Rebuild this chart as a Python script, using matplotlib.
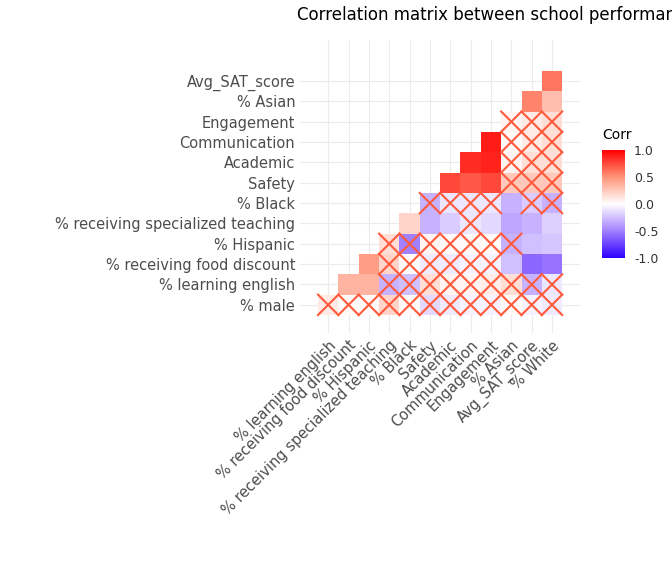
import numpy as np
import matplotlib
matplotlib.use("Agg")
import matplotlib.pyplot as plt
from matplotlib.colors import LinearSegmentedColormap, Normalize

x_labels = ["% learning english", "% receiving food discount", "% Hispanic",
            "% receiving specialized teaching", "% Black", "Safety", "Academic",
            "Communication", "Engagement", "% Asian", "Avg_SAT_score", "% White"]
y_labels = ["% male", "% learning english", "% receiving food discount", "% Hispanic",
            "% receiving specialized teaching", "% Black", "Safety", "Academic",
            "Communication", "Engagement", "% Asian", "Avg_SAT_score"]

# row i (y_labels[i]) values for columns i..11
corr_rows = [
    [0.10, 0.03, 0.02, 0.20, 0.02, -0.15, -0.08, -0.05, -0.05, 0.03, -0.05, -0.08],
    [0.35, 0.35, -0.30, -0.25, 0.15, 0.05, 0.05, 0.08, 0.15, -0.30, -0.10],
    [0.45, 0.20, 0.02, -0.08, -0.08, -0.05, -0.05, -0.25, -0.60, -0.55],
    [0.15, -0.50, 0.05, 0.03, 0.03, 0.03, -0.30, -0.25, -0.22],
    [0.20, -0.30, -0.20, -0.10, -0.15, -0.35, -0.30, -0.18],
    [-0.30, -0.10, -0.10, -0.10, -0.30, -0.20, -0.30],
    [0.75, 0.70, 0.75, 0.25, 0.25, 0.25],
    [0.85, 0.88, 0.05, 0.15, 0.15],
    [0.90, 0.03, 0.10, 0.15],
    [0.05, 0.10, 0.15],
    [0.55, 0.30],
    [0.60],
]
# 1 = not significant (crossed)
insig_rows = [
    [1, 1, 1, 1, 1, 1, 1, 1, 1, 1, 1, 1],
    [0, 0, 1, 1, 1, 1, 1, 1, 1, 1, 1],
    [0, 1, 1, 1, 1, 1, 1, 0, 0, 0],
    [1, 1, 1, 1, 1, 1, 1, 0, 0],
    [0, 0, 0, 1, 0, 0, 0, 0],
    [1, 1, 1, 1, 0, 1, 1],
    [0, 0, 0, 1, 1, 1],
    [0, 0, 1, 1, 1],
    [0, 1, 1, 1],
    [1, 1, 1],
    [0, 0],
    [0],
]

cmap = LinearSegmentedColormap.from_list(
    "c", [(0, "#2E00FF"), (0.25, "#A280FF"), (0.5, "#FFFFFF"),
          (0.75, "#FF9478"), (1, "#FF0000")])
norm = Normalize(-1, 1)

fig = plt.figure(figsize=(6.72, 5.76), dpi=100)
W, H = 672, 576
cell = 20.35
x0, y0 = 318, 315
axl, axr, axt, axb = 300, 580, 40, 333
ax = fig.add_axes([axl / W, 1 - axb / H, (axr - axl) / W, (axb - axt) / H])
ax.set_xlim(-0.5 - (x0 - axl) / cell, -0.5 + (axr - x0) / cell)
ax.set_ylim(-0.5 - (axb - y0) / cell, -0.5 + (y0 - axt) / cell)
for s in ax.spines.values():
    s.set_visible(False)
ax.set_xticks(range(12))
ax.set_yticks(range(12))
ax.grid(True, color="#EBEBEB", lw=0.8, zorder=0)
ax.set_axisbelow(True)
ax.tick_params(length=0, labelsize=10.5, labelcolor="#4D4D4D")
ax.set_xticklabels(x_labels, rotation=45, ha="right", rotation_mode="anchor")
ax.set_yticklabels(y_labels)

for i, (vals, ins) in enumerate(zip(corr_rows, insig_rows)):
    for k, (v, n) in enumerate(zip(vals, ins)):
        j = i + k
        ax.add_patch(plt.Rectangle((j - 0.5, i - 0.5), 1, 1, facecolor=cmap(norm(v)),
                                   edgecolor="none", zorder=2))
        if n:
            ax.plot([j - 0.5, j + 0.5], [i - 0.5, i + 0.5], color="#FF5A3C", lw=1.5, zorder=3)
            ax.plot([j - 0.5, j + 0.5], [i + 0.5, i - 0.5], color="#FF5A3C", lw=1.5, zorder=3)

fig.text(297 / W, 1 - 15 / H, "Correlation matrix between school performance",
         fontsize=12, va="center", ha="left", color="black")

cax = fig.add_axes([602 / W, 1 - 258 / H, 23 / W, 108 / H])
sm = plt.cm.ScalarMappable(norm=norm, cmap=cmap)
cb = fig.colorbar(sm, cax=cax, ticks=[-1, -0.5, 0, 0.5, 1])
cb.outline.set_visible(False)
cb.ax.set_yticklabels(["-1.0", "-0.5", "0.0", "0.5", "1.0"])
cb.ax.tick_params(labelsize=9, length=3, color="white", labelcolor="#333333")
fig.text(602 / W, 1 - 135 / H, "Corr", fontsize=10, va="center", ha="left")

fig.savefig("out.png", dpi=100)
